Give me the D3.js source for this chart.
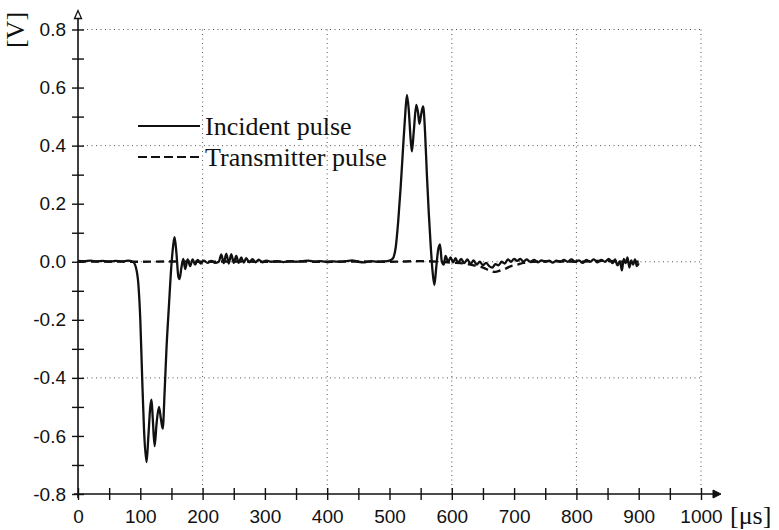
<!DOCTYPE html>
<html>
<head>
<meta charset="utf-8">
<script src="https://cdn.jsdelivr.net/npm/d3@7"></script>
<style>
  body { margin: 0; background: #fff; }
  .tick text { font-family: "Liberation Sans", Arial, sans-serif; font-size: 19px; fill: #111; }
  .lbl { font-family: "Liberation Serif", "Times New Roman", serif; font-size: 26px; fill: #111; }
</style>
</head>
<body>
<div id="chart"></div>
<script>
// time in microseconds, voltage in V
var incident = [
  [0,0.003],[10,0.002],[20,0.004],[30,0.001],[40,0.003],[50,0.0],[60,0.003],[70,0.001],[80,0.004],[88,0.0],
  [93,-0.02],[97,-0.08],[100,-0.2],[103,-0.4],[106,-0.58],[110,-0.69],[113,-0.6],[116,-0.5],[118,-0.475],
  [120,-0.54],[123,-0.635],[126,-0.56],[130,-0.5],[133,-0.54],[136,-0.575],[139,-0.45],[142,-0.3],[146,-0.15],
  [150,-0.01],[153,0.06],[155,0.085],[158,0.03],[161,-0.05],[163,-0.06],[166,-0.02],[169,0.01],[172,-0.025],
  [176,0.008],[180,-0.015],[184,0.008],[188,-0.01],[192,0.006],[197,-0.006],[202,0.004],[208,-0.004],[214,0.003],
  [220,-0.004],[226,0.0],[230,0.025],[234,-0.005],[238,0.028],[242,-0.006],[246,0.026],[250,-0.004],[254,0.02],
  [258,-0.004],[262,0.015],[266,-0.003],[270,0.012],[275,-0.002],[280,0.009],[285,-0.002],[290,0.007],[296,-0.002],
  [302,0.004],[310,0.0],[320,0.002],[330,-0.001],[340,0.002],[350,0.0],[360,0.002],[370,0.004],[380,0.0],
  [390,0.002],[400,-0.001],[410,0.001],[420,0.0],[430,0.002],[440,0.005],[450,0.0],[460,-0.002],[470,0.002],
  [480,0.0],[490,0.001],[500,0.004],[505,0.01],[510,0.05],[514,0.14],[518,0.26],[522,0.4],[525,0.5],[528,0.575],
  [531,0.52],[534,0.42],[536,0.38],[539,0.45],[543,0.54],[546,0.51],[548,0.475],[551,0.51],[554,0.535],[557,0.45],
  [560,0.3],[563,0.17],[566,0.06],[569,-0.03],[572,-0.08],[575,-0.02],[578,0.04],[581,0.06],[584,0.0],[587,-0.01],
  [590,0.02],[594,0.0],[598,0.015],[602,-0.002],[606,0.012],[610,-0.004],[615,0.01],[620,-0.005],[625,0.008],
  [630,-0.008],[635,0.005],[640,-0.01],[645,0.0],[650,-0.012],[655,-0.004],[660,-0.015],[665,-0.02],[670,-0.008],
  [675,-0.012],[680,0.0],[685,-0.006],[690,0.008],[695,0.0],[700,0.01],[705,0.003],[710,0.01],[715,0.0],[720,0.008],
  [726,0.0],[732,0.006],[738,-0.002],[744,0.005],[750,0.0],[756,0.004],[762,-0.003],[768,0.004],[774,0.0],[780,0.006],
  [786,0.0],[792,0.008],[798,0.0],[804,0.005],[810,-0.004],[816,0.006],[822,0.0],[828,0.008],[834,-0.002],[840,0.006],
  [846,0.0],[852,0.01],[858,-0.005],[862,0.008],[866,-0.012],[870,0.002],[873,-0.03],[876,0.01],[879,-0.005],
  [882,0.015],[885,-0.02],[888,0.005],[891,-0.01],[894,0.008],[897,-0.015],[900,-0.005]
];

var transmitter = [
  [0,0.0],[50,0.001],[100,0.0],[150,0.001],[200,0.0],[250,0.001],[300,0.0],[350,0.001],[400,0.0],[450,0.001],
  [500,0.0],[550,0.002],[580,0.0],[600,-0.003],[620,-0.006],[640,-0.015],[650,-0.02],[660,-0.03],[668,-0.035],
  [675,-0.032],[685,-0.025],[695,-0.015],[705,-0.01],[715,-0.004],[730,0.0],[760,0.002],[800,0.0],[840,0.003],
  [880,0.0],[900,0.0]
];

var xTicks = d3.range(0, 1001, 50);          // ticks every 50, labels every 100
var yTicks = d3.range(-8, 9).map(function (d) { return d / 10; });
var xGrid = [200, 400, 600, 800, 1000];
var yGrid = [0.8, 0.4, 0.0, -0.4];
var legendNames = ["Incident pulse", "Transmitter pulse"];

var W = 779, H = 530;
var x = d3.scaleLinear().domain([0, 1000]).range([78, 701]);
var y = d3.scaleLinear().domain([-0.8, 0.8]).range([494, 29.5]);

var svg = d3.select("#chart").append("svg")
    .attr("width", W)
    .attr("height", H);

// dotted grid
svg.selectAll("line.gx").data(xGrid).enter().append("line")
    .attr("x1", x).attr("x2", x)
    .attr("y1", y(0.8)).attr("y2", y(-0.8))
    .attr("stroke", "#555").attr("stroke-width", 1).attr("stroke-dasharray", "1,3.5");
svg.selectAll("line.gy").data(yGrid).enter().append("line")
    .attr("x1", x(0)).attr("x2", x(1000))
    .attr("y1", y).attr("y2", y)
    .attr("stroke", "#555").attr("stroke-width", 1).attr("stroke-dasharray", "1,3.5");

// x axis
var xAxis = d3.axisBottom(x)
    .tickValues(xTicks)
    .tickSize(6)
    .tickPadding(10)
    .tickFormat(function (d) { return d % 100 === 0 ? d : ""; });
var gx = svg.append("g")
    .attr("transform", "translate(0," + y(-0.8) + ")")
    .call(xAxis);
gx.select(".domain").remove();
gx.selectAll(".tick line").attr("y1", -6).attr("stroke", "#111").attr("stroke-width", 1.4);

// y axis
var yAxis = d3.axisLeft(y)
    .tickValues(yTicks)
    .tickSize(6)
    .tickPadding(6)
    .tickFormat(function (d) { return Math.round(d * 10) % 2 === 0 ? d.toFixed(1).replace("-0.0", "0.0") : ""; });
var gy = svg.append("g")
    .attr("transform", "translate(" + x(0) + ",0)")
    .call(yAxis);
gy.select(".domain").remove();
gy.selectAll(".tick line").attr("x2", 6).attr("x1", -6).attr("stroke", "#111").attr("stroke-width", 1.4);

// axis lines with arrows
svg.append("line")
    .attr("x1", x(0) - 4).attr("x2", x(1000) + 14)
    .attr("y1", y(-0.8)).attr("y2", y(-0.8))
    .attr("stroke", "#111").attr("stroke-width", 1.6);
svg.append("path")                                   // x arrow head
    .attr("d", "M" + (x(1000) + 12) + "," + (y(-0.8) - 4) + "L" + (x(1000) + 20) + "," + y(-0.8) +
          "L" + (x(1000) + 12) + "," + (y(-0.8) + 4) + "Z")
    .attr("fill", "#111").attr("stroke", "#111");
svg.append("line")
    .attr("x1", x(0)).attr("x2", x(0))
    .attr("y1", y(-0.8) + 4).attr("y2", y(0.8) - 14)
    .attr("stroke", "#111").attr("stroke-width", 1.6);
svg.append("path")                                   // y arrow head (open)
    .attr("d", "M" + (x(0) - 3.5) + "," + (y(0.8) - 11) + "L" + x(0) + "," + (y(0.8) - 19) +
          "L" + (x(0) + 3.5) + "," + (y(0.8) - 11) + "Z")
    .attr("fill", "#fff").attr("stroke", "#111").attr("stroke-width", 1.3);

// series
var line = d3.line()
    .x(function (d) { return x(d[0]); })
    .y(function (d) { return y(d[1]); })
    .curve(d3.curveMonotoneX);

svg.append("path")
    .datum(transmitter)
    .attr("d", line)
    .attr("fill", "none")
    .attr("stroke", "#111").attr("stroke-width", 2.4)
    .attr("stroke-dasharray", "8,5");

svg.append("path")
    .datum(incident)
    .attr("d", line)
    .attr("fill", "none")
    .attr("stroke", "#111").attr("stroke-width", 2.3);

// legend
var leg = svg.selectAll("g.leg").data(legendNames).enter().append("g")
    .attr("transform", function (d, i) { return "translate(138," + (126 + i * 31) + ")"; });
leg.append("line")
    .attr("x1", 0).attr("x2", 62)
    .attr("stroke", "#111").attr("stroke-width", 2)
    .attr("stroke-dasharray", function (d, i) { return i ? "9,4" : null; });
leg.append("text")
    .attr("class", "lbl")
    .attr("x", 67).attr("y", 9)
    .text(function (d) { return d; });

// unit labels
svg.append("text")
    .attr("class", "lbl")
    .attr("transform", "translate(24,30) rotate(-90)")
    .attr("text-anchor", "middle")
    .text("[V]");
svg.append("text")
    .attr("class", "lbl")
    .attr("x", 730).attr("y", 524)
    .text("[\u03bcs]");
</script>
</body>
</html>
